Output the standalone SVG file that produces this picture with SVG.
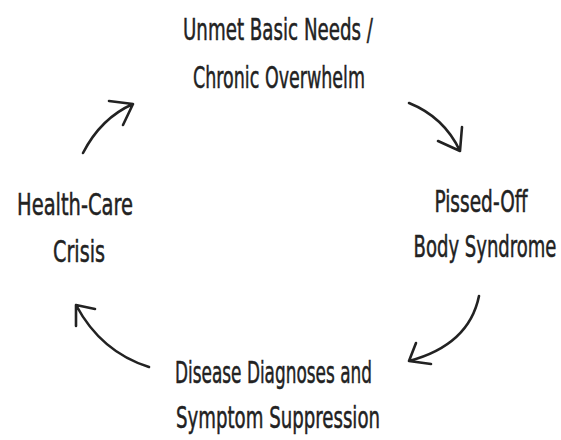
<svg xmlns="http://www.w3.org/2000/svg" width="561" height="440" viewBox="0 0 561 440">
<style>
.t{font-family:"DejaVu Sans Condensed","Liberation Sans Narrow","Liberation Sans",sans-serif;font-size:31px;fill:#222;text-anchor:middle;stroke:#222;stroke-width:0.5}
.c{fill:none;stroke:#222;stroke-width:2.6;stroke-linecap:round;stroke-linejoin:round}
</style>
<rect width="561" height="440" fill="#fff"/>
<g id="node-unmet">
<text class="t" x="278" y="40" textLength="190" lengthAdjust="spacingAndGlyphs">Unmet Basic Needs /</text>
<text class="t" x="279" y="88" textLength="172" lengthAdjust="spacingAndGlyphs">Chronic Overwhelm</text>
</g>
<g id="node-pissed">
<text class="t" transform="translate(481,212) scale(0.7,1)" x="0" y="0" textLength="133" lengthAdjust="spacingAndGlyphs">Pissed-Off</text>
<text class="t" transform="translate(485,257) scale(0.6,1)" x="0" y="0" textLength="238" lengthAdjust="spacingAndGlyphs">Body Syndrome</text>
</g>
<g id="node-disease">
<text class="t" x="273.5" y="383" textLength="197" lengthAdjust="spacingAndGlyphs">Disease Diagnoses and</text>
<text class="t" x="278" y="428" textLength="204" lengthAdjust="spacingAndGlyphs">Symptom Suppression</text>
</g>
<g id="node-health">
<text class="t" x="75" y="215" textLength="116" lengthAdjust="spacingAndGlyphs">Health-Care</text>
<text class="t" x="79" y="262" textLength="52" lengthAdjust="spacingAndGlyphs">Crisis</text>
</g>
<g id="connectors">
<path class="c" d="M83,153 Q101,118 133,104 M109,101 L133,104 L123,125"/>
<path class="c" d="M409,103 Q444,117 460,151 M462,127 L460,151 L438,141"/>
<path class="c" d="M479,296 Q469,345 409,361 M416,343 L409,361 L431,364"/>
<path class="c" d="M149,367 Q101,352 76,305 M95,309 L76,305 L76,326"/>
</g>
</svg>
